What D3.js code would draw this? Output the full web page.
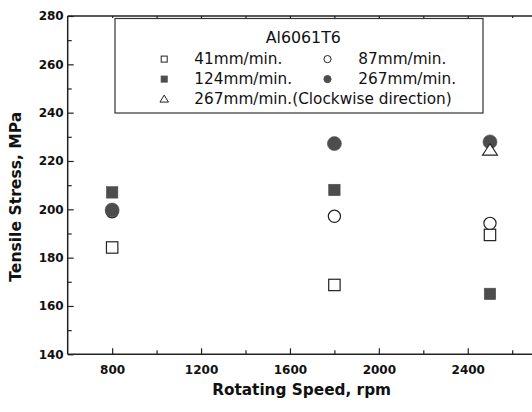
<!DOCTYPE html>
<html lang="en">
  <head>
    <meta charset="utf-8">
    <title>Tensile stress vs rotating speed</title>
    <style>
    body {margin: 0; background: #fff;}
    svg text {font-family: "DejaVu Sans", sans-serif;}
    .axis path {display: none;}
    .axis line {stroke: #222; stroke-width: 1.2;}
    .axis text {font-size: 12px; font-weight: bold; fill: #111; font-family: "DejaVu Sans", sans-serif;}
    </style>
  </head>
  <body>
    <div id="chart"></div>
    <script src="https://d3js.org/d3.v7.min.js"></script>
    <script>
      // data
      var speeds = [800, 1800, 2500];
      var s41 = [184.2, 168.7, 189.4];
      var s87 = [199.0, 197.1, 194.2];
      var s124 = [207.0, 208.0, 165.0];
      var s267 = [199.7, 227.2, 227.9];
      var s267cw = [null, null, 224.8];

      var xMajor = [800, 1200, 1600, 2000, 2400];
      var xMinor = [1000, 1400, 1800, 2200, 2600];
      var yMajor = [140, 160, 180, 200, 220, 240, 260, 280];
      var yMinor = [150, 170, 190, 210, 230, 250, 270];

      var legendTitle = "Al6061T6";
      var legendLabels = ["41mm/min.", "87mm/min.", "124mm/min.", "267mm/min.", "267mm/min.(Clockwise direction)"];

      var W = 532, H = 412;
      var mLeft = 67.7, mTop = 16, mBottom = 354.3;

      var svg = d3.select("#chart").append("svg")
        .attr("width", W).attr("height", H);

      var x = d3.scaleLinear().domain([600, 2800]).range([mLeft, mLeft + 5.5 * 88.9]);
      var y = d3.scaleLinear().domain([140, 280]).range([mBottom, mTop]);

      // frame lines
      svg.append("line").attr("x1", mLeft).attr("x2", W).attr("y1", mBottom).attr("y2", mBottom)
        .attr("stroke", "#222").attr("stroke-width", 1.5);
      svg.append("line").attr("x1", mLeft).attr("x2", mLeft).attr("y1", mTop).attr("y2", mBottom)
        .attr("stroke", "#222").attr("stroke-width", 1.5);
      svg.append("line").attr("x1", mLeft).attr("x2", W).attr("y1", mTop).attr("y2", mTop)
        .attr("stroke", "#222").attr("stroke-width", 1.3);

      // bottom axis, ticks inward
      svg.append("g").attr("class", "axis")
        .attr("transform", "translate(0," + mBottom + ")")
        .call(d3.axisBottom(x).tickValues(xMajor).tickSize(-6).tickPadding(11).tickFormat(d3.format("d")));
      svg.append("g").attr("class", "axis")
        .attr("transform", "translate(0," + mBottom + ")")
        .call(d3.axisBottom(x).tickValues(xMinor).tickSize(-4).tickFormat(""));
      // top axis, tiny ticks
      svg.append("g").attr("class", "axis")
        .attr("transform", "translate(0," + mTop + ")")
        .call(d3.axisTop(x).tickValues(xMajor.concat(xMinor)).tickSize(-2).tickFormat(""));

      // left axis
      svg.append("g").attr("class", "axis")
        .attr("transform", "translate(" + mLeft + ",0)")
        .call(d3.axisLeft(y).tickValues(yMajor).tickSize(-6).tickPadding(4).tickFormat(d3.format("d")));
      svg.append("g").attr("class", "axis")
        .attr("transform", "translate(" + mLeft + ",0)")
        .call(d3.axisLeft(y).tickValues(yMinor).tickSize(-4).tickFormat(""));

      // axis titles
      svg.append("text")
        .attr("x", 301.6).attr("y", 395)
        .attr("text-anchor", "middle")
        .style("font-size", "15.3px").style("font-weight", "bold").style("fill", "#111")
        .text("Rotating Speed, rpm");
      svg.append("text")
        .attr("transform", "translate(20.7,196.7) rotate(-90)")
        .attr("text-anchor", "middle")
        .style("font-size", "15.6px").style("font-weight", "bold").style("fill", "#111")
        .text("Tensile Stress, MPa");

      var dark = "#4d4d4d";

      function pts(vals) {
        return speeds.map(function(s, i) { return {s: s, v: vals[i]}; })
          .filter(function(d) { return d.v != null; });
      }

      function squares(vals, filled) {
        svg.append("g").selectAll("rect").data(pts(vals)).enter().append("rect")
          .attr("x", function(d) { return x(d.s) - 5.7; })
          .attr("y", function(d) { return y(d.v) - 5.7; })
          .attr("width", 11.4).attr("height", 11.4)
          .attr("fill", filled ? dark : "#fff")
          .attr("stroke", filled ? dark : "#222").attr("stroke-width", filled ? 0.6 : 1.2);
      }
      function circles(vals, filled, r) {
        svg.append("g").selectAll("circle").data(pts(vals)).enter().append("circle")
          .attr("cx", function(d) { return x(d.s); })
          .attr("cy", function(d) { return y(d.v); })
          .attr("r", r)
          .attr("fill", filled ? dark : "#fff")
          .attr("stroke", filled ? dark : "#222").attr("stroke-width", filled ? 0.6 : 1.2);
      }
      function triPath(cx, cy, w, h) {
        return "M" + cx + "," + (cy - h / 2) + "L" + (cx + w / 2) + "," + (cy + h / 2) +
          "L" + (cx - w / 2) + "," + (cy + h / 2) + "Z";
      }
      function triangles(vals) {
        svg.append("g").selectAll("path").data(pts(vals)).enter().append("path")
          .attr("d", function(d) { return triPath(x(d.s), y(d.v), 15, 11.5); })
          .attr("fill", "#fff").attr("stroke", "#222").attr("stroke-width", 1.1);
      }

      squares(s41, false);
      circles(s87, false, 6.1);
      squares(s124, true);
      circles(s267, true, 7);
      triangles(s267cw);

      // legend
      var lg = svg.append("g");
      lg.append("rect")
        .attr("x", 115).attr("y", 18.5).attr("width", 368).attr("height", 94.5)
        .attr("fill", "#fff").attr("stroke", "#333").attr("stroke-width", 1.2);
      lg.append("text").attr("x", 303.3).attr("y", 43.3).attr("text-anchor", "middle")
        .style("font-size", "15.8px").style("fill", "#111").text(legendTitle);

      var rows = [64.3, 84.3, 104.3];
      var items = [
        {sx: 164.2, tx: 194.3, row: 0, kind: "sq", filled: false},
        {sx: 327.5, tx: 358.3, row: 0, kind: "ci", filled: false},
        {sx: 164.2, tx: 194.3, row: 1, kind: "sq", filled: true},
        {sx: 327.5, tx: 358.3, row: 1, kind: "ci", filled: true},
        {sx: 164.2, tx: 194.3, row: 2, kind: "tr", filled: false}
      ];
      items.forEach(function(it, i) {
        var cy = rows[it.row] - 5.2;
        if (it.kind === "sq") {
          lg.append("rect").attr("x", it.sx - 3).attr("y", cy - 3).attr("width", 6).attr("height", 6)
            .attr("fill", it.filled ? dark : "#fff").attr("stroke", it.filled ? dark : "#222").attr("stroke-width", 1);
        } else if (it.kind === "ci") {
          lg.append("circle").attr("cx", it.sx).attr("cy", cy).attr("r", 3.6)
            .attr("fill", it.filled ? dark : "#fff").attr("stroke", it.filled ? dark : "#222").attr("stroke-width", 1);
        } else {
          lg.append("path").attr("d", triPath(it.sx, cy - 0.5, 8.5, 7))
            .attr("fill", "#fff").attr("stroke", "#222").attr("stroke-width", 1);
        }
        lg.append("text").attr("x", it.tx).attr("y", rows[it.row])
          .style("font-size", "15.3px").style("fill", "#111")
          .text(legendLabels[i]);
      });
    </script>
  </body>
</html>
